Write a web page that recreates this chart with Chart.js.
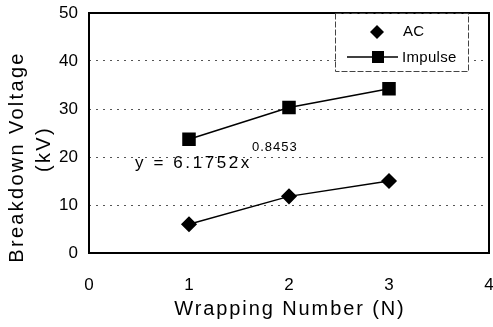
<!DOCTYPE html>
<html>
<head>
<meta charset="utf-8">
<script src="https://cdn.jsdelivr.net/npm/chart.js@4/dist/chart.umd.min.js"></script>
<style>
html,body{margin:0;padding:0;background:#fff;}
#wrap{width:493px;height:327px;position:relative;}
</style>
</head>
<body>
<div id="wrap"><canvas id="c" width="493" height="327"></canvas></div>
<script>
// Data
const wrappingNumber = [1, 2, 3];
const acVoltage = [6.0, 11.8, 15.0];
const impulseVoltage = [23.7, 30.3, 34.2];
const xTicks = [0, 1, 2, 3, 4];
const yTicks = [0, 10, 20, 30, 40, 50];
const seriesNames = ['AC', 'Impulse'];
const xTitle = 'Wrapping Number (N)';
const yTitleLines = ['Breakdown Voltage', '(kV)'];
const equationMain = 'y = 6.1752x';
const equationExp = '0.8453';

const FONT = "'Liberation Sans', Arial, sans-serif";

const decor = {
  id: 'decor',
  afterDraw(chart) {
    const ctx = chart.ctx;
    const a = chart.chartArea;
    ctx.save();
    // frame
    ctx.strokeStyle = '#000';
    ctx.lineWidth = 2;
    ctx.strokeRect(a.left, a.top, a.right - a.left, a.bottom - a.top);

    // x title
    ctx.fillStyle = '#000';
    ctx.font = '20px ' + FONT;
    ctx.letterSpacing = '1.9px';
    ctx.textAlign = 'center';
    ctx.textBaseline = 'alphabetic';
    ctx.fillText(xTitle, 290, 315);

    // y title
    ctx.save();
    ctx.translate(23, 157);
    ctx.rotate(-Math.PI / 2);
    ctx.letterSpacing = '2.3px';
    ctx.fillText(yTitleLines[0], 0, 0);
    ctx.restore();
    ctx.save();
    ctx.translate(50, 149);
    ctx.rotate(-Math.PI / 2);
    ctx.letterSpacing = '2.3px';
    ctx.fillText(yTitleLines[1], 0, 0);
    ctx.restore();

    // equation
    ctx.textAlign = 'left';
    ctx.font = '17px ' + FONT;
    ctx.letterSpacing = '2.6px';
    ctx.fillText(equationMain, 135, 168);
    const w = ctx.measureText(equationMain).width;
    ctx.font = '13px ' + FONT;
    ctx.letterSpacing = '1px';
    ctx.fillText(equationExp, 135 + w, 151);

    // legend
    ctx.letterSpacing = '0px';
    ctx.fillStyle = '#fff';
    ctx.fillRect(336, 14, 132, 57);
    ctx.strokeStyle = '#444';
    ctx.lineWidth = 1;
    ctx.setLineDash([6, 2]);
    ctx.strokeRect(335.5, 13.5, 133, 58);
    ctx.setLineDash([]);
    // AC diamond
    ctx.fillStyle = '#000';
    ctx.beginPath();
    ctx.moveTo(377, 25); ctx.lineTo(384, 32); ctx.lineTo(377, 39); ctx.lineTo(370, 32);
    ctx.closePath(); ctx.fill();
    // Impulse line + square
    ctx.strokeStyle = '#000';
    ctx.lineWidth = 1.5;
    ctx.beginPath(); ctx.moveTo(347, 57); ctx.lineTo(398, 57); ctx.stroke();
    ctx.fillRect(372, 51, 12, 12);
    ctx.font = '15px ' + FONT;
    ctx.letterSpacing = '0.3px';
    ctx.textBaseline = 'middle';
    ctx.fillText(seriesNames[0], 403, 32);
    ctx.fillText(seriesNames[1], 402, 58);
    ctx.restore();
  }
};

new Chart(document.getElementById('c'), {
  type: 'line',
  data: {
    datasets: [
      {
        label: seriesNames[0],
        data: wrappingNumber.map((x, i) => ({x, y: acVoltage[i]})),
        borderColor: '#000', backgroundColor: '#000', borderWidth: 1.5,
        pointStyle: 'rectRot', pointRadius: 7, pointHoverRadius: 7, tension: 0
      },
      {
        label: seriesNames[1],
        data: wrappingNumber.map((x, i) => ({x, y: impulseVoltage[i]})),
        borderColor: '#000', backgroundColor: '#000', borderWidth: 1.5,
        pointStyle: 'rect', pointRadius: 8.5, pointHoverRadius: 8.5, tension: 0
      }
    ]
  },
  options: {
    responsive: false,
    animation: false,
    events: [],
    layout: { autoPadding: false, padding: { top: 13, right: 4, left: 0, bottom: 0 } },
    plugins: { legend: { display: false }, tooltip: { enabled: false } },
    scales: {
      x: {
        type: 'linear', min: 0, max: 4,
        afterBuildTicks(s) { s.ticks = xTicks.map(v => ({value: v})); },
        afterFit(s) { s.height = 74; s.paddingLeft = 0; s.paddingRight = 0; s.paddingTop = 0; s.paddingBottom = 0; },
        grid: { display: false, drawTicks: false },
        border: { display: false },
        ticks: { color: '#000', padding: 22, maxRotation: 0, font: { family: FONT, size: 17 } }
      },
      y: {
        type: 'linear', min: 0, max: 50,
        afterBuildTicks(s) { s.ticks = yTicks.map(v => ({value: v})); },
        afterFit(s) { s.width = 89; s.paddingLeft = 0; s.paddingRight = 0; s.paddingTop = 0; s.paddingBottom = 0; },
        grid: {
          drawTicks: false,
          color: c => (c.tick && (c.tick.value === 0 || c.tick.value === 50)) ? 'rgba(0,0,0,0)' : '#555',
          lineWidth: 1
        },
        border: { display: false, dash: [2, 5] },
        ticks: { color: '#000', padding: 11, font: { family: FONT, size: 17 } }
      }
    }
  },
  plugins: [decor]
});
</script>
</body>
</html>
